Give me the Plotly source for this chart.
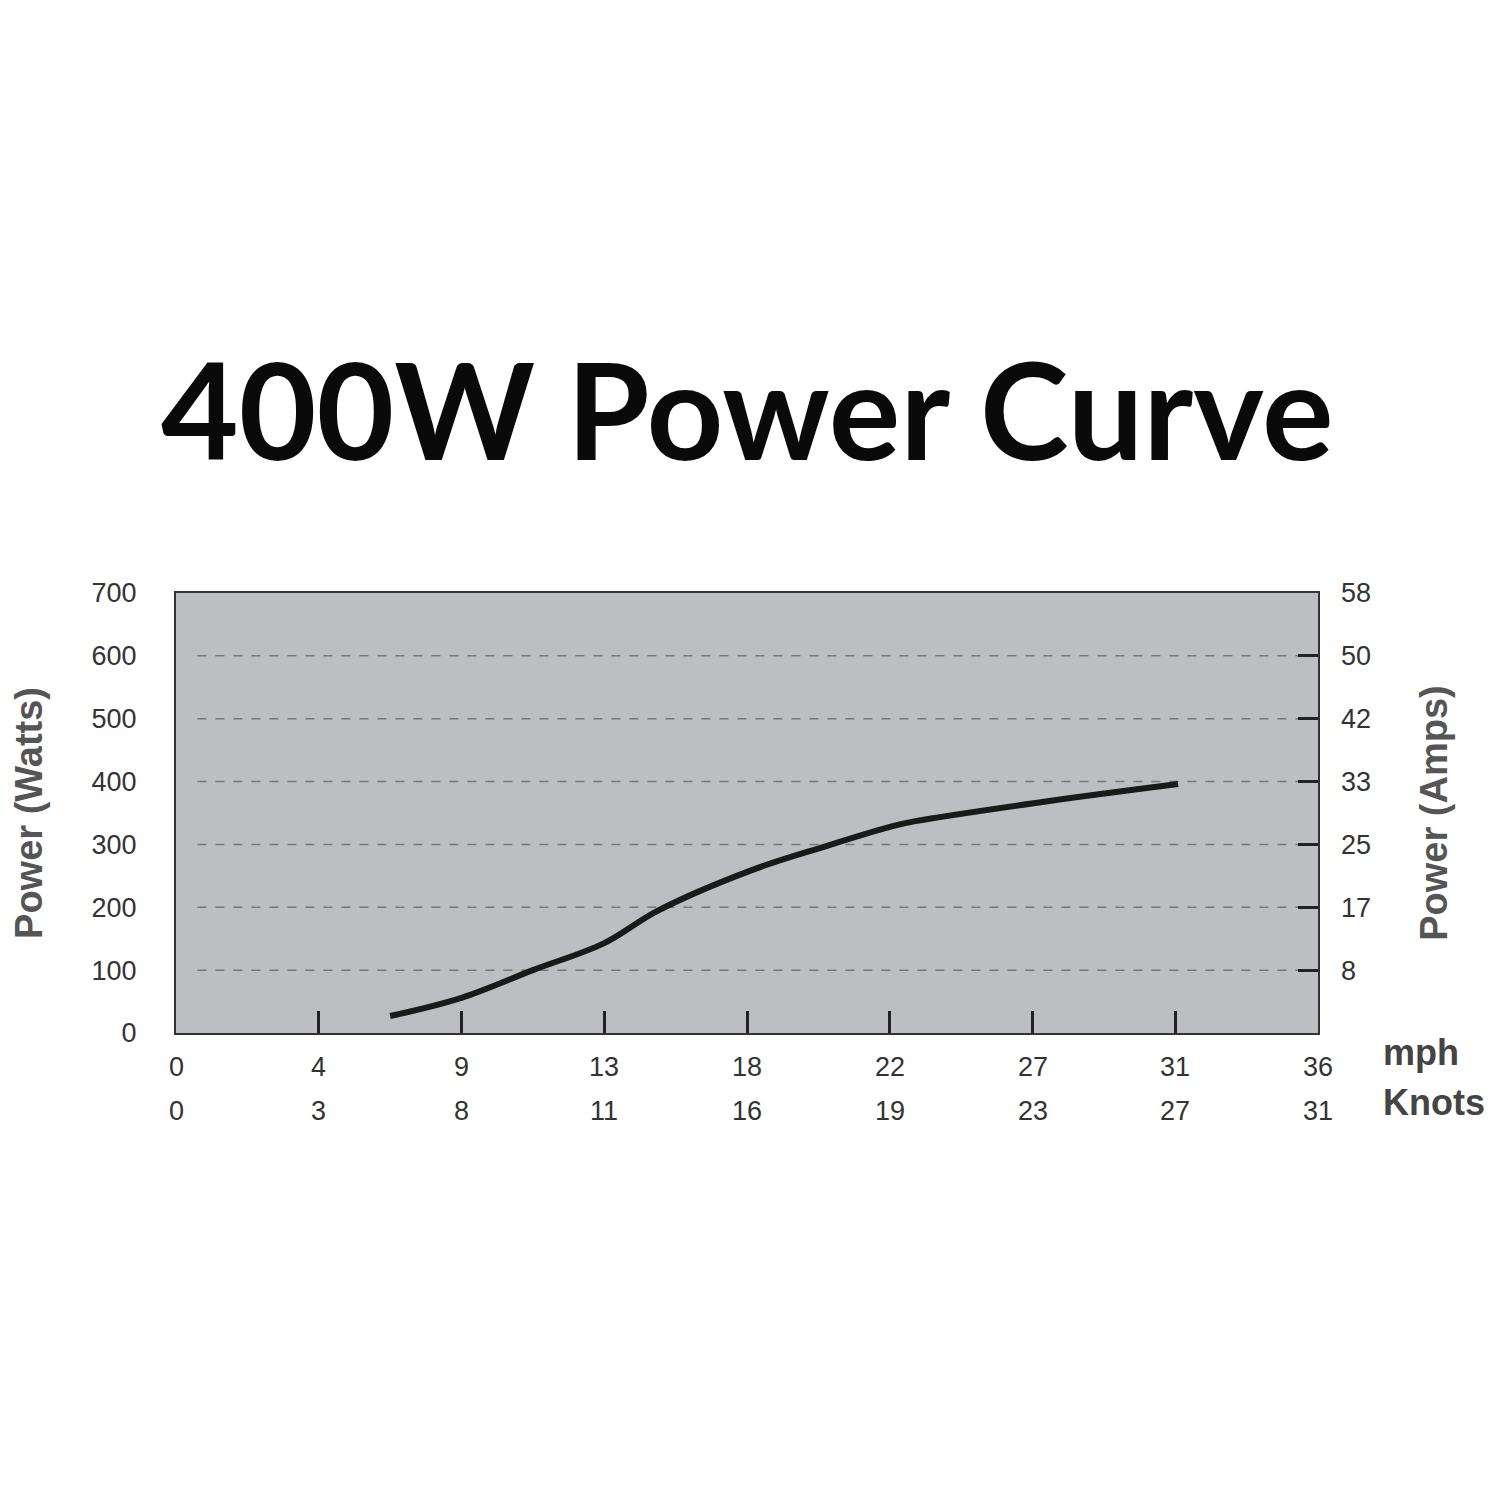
import plotly.graph_objects as go

mph = ["0","4","9","13","18","22","27","31","36"]
knots = ["0","3","8","11","16","19","23","27","31"]
watts_ticks = [0,100,200,300,400,500,600,700]
amps_ticks = ["8","17","25","33","42","50","58"]
curve_x = [1.5,2.0,2.5,3.0,3.37,4.02,4.55,5.02,5.18,6.02,7.02]
curve_w = [27,56,100,143,194,258,297,329,337,366,396]

fig = go.Figure()
fig.add_trace(go.Scatter(x=curve_x, y=curve_w, mode="lines",
    line=dict(color="#1a1a1a", width=6, shape="spline"), showlegend=False))
fig.add_trace(go.Scatter(x=[0], y=[0], yaxis="y2", mode="markers",
    marker=dict(opacity=0), showlegend=False, hoverinfo="skip"))
for w in watts_ticks[1:-1]:
    fig.add_shape(type="line", xref="x", yref="y", x0=0.15, x1=7.9, y0=w, y1=w,
                  line=dict(color="#777", width=1.5, dash="dash"), layer="below")

for i,(m,k) in enumerate(zip(mph, knots)):
    fig.add_annotation(x=i, y=-0.115, xref="x", yref="paper", text=m, showarrow=False,
                       font=dict(size=27, color="#333", family="Liberation Sans"))
    fig.add_annotation(x=i, y=-0.215, xref="x", yref="paper", text=k, showarrow=False,
                       font=dict(size=27, color="#333", family="Liberation Sans"))
fig.add_annotation(x=1.055, y=-0.095, xref="paper", yref="paper", text="<b>mph</b>", showarrow=False,
                   xanchor="left", font=dict(size=36, color="#444", family="Liberation Sans"))
fig.add_annotation(x=1.055, y=-0.21, xref="paper", yref="paper", text="<b>Knots</b>", showarrow=False,
                   xanchor="left", font=dict(size=36, color="#444", family="Liberation Sans"))

fig.add_annotation(x=0.5, xref="paper", yref="paper", y=1.42, yanchor="middle",
                   text="<b>400W Power Curve</b>", showarrow=False,
                   font=dict(size=134, color="#0a0a0a", family="Lato"))

fig.update_layout(
    width=1497, height=1497, paper_bgcolor="white", plot_bgcolor="#bdbec1",
    margin=dict(l=157, r=187, t=585, b=472),
    xaxis=dict(range=[0,8], tickvals=list(range(1,8)), showticklabels=False,
               ticks="inside", ticklen=22, tickwidth=2.5, tickcolor="#222",
               showgrid=False, zeroline=False, showline=True, linecolor="#333",
               linewidth=2, mirror=True),
    yaxis=dict(range=[0,700], tickvals=watts_ticks, ticks="", showgrid=False, zeroline=False,
               ticklabelstandoff=32,
               tickfont=dict(size=27, color="#333", family="Liberation Sans"),
               title=dict(text="<b>Power (Watts)</b>", standoff=45,
                          font=dict(size=38, color="#555", family="Liberation Sans")),
               showline=True, linecolor="#333", linewidth=2, mirror=True),
    yaxis2=dict(range=[0,700], overlaying="y", side="right",
                tickvals=[100,200,300,400,500,600,700], ticktext=amps_ticks,
                ticks="inside", ticklen=20, tickwidth=2.5, tickcolor="#222",
                showgrid=False, zeroline=False, ticklabelstandoff=22,
                tickfont=dict(size=27, color="#333", family="Liberation Sans"),
                title=dict(text="<b>Power (Amps)</b>", standoff=50,
                           font=dict(size=38, color="#555", family="Liberation Sans"))),
)
fig.write_html("out.html")
